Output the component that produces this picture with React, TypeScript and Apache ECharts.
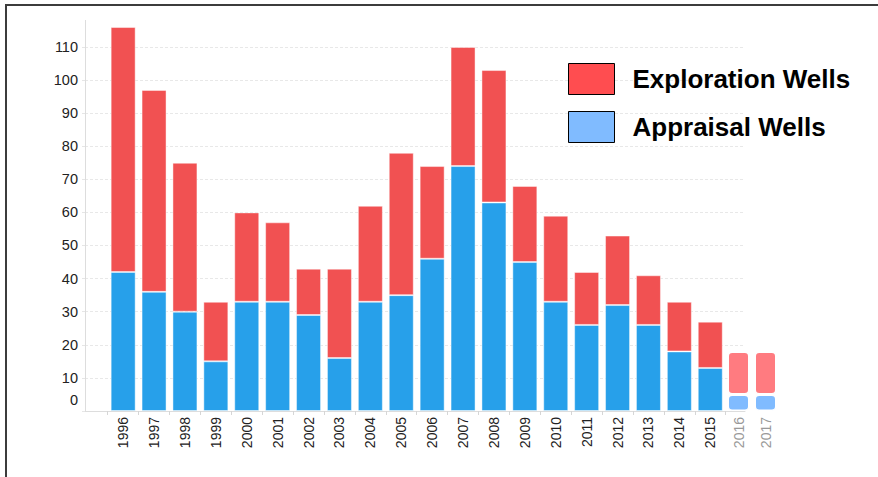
import React, { useEffect, useRef } from "react";
import * as echarts from "echarts";

const years = ["1996","1997","1998","1999","2000","2001","2002","2003","2004","2005","2006","2007","2008","2009","2010","2011","2012","2013","2014","2015"];
const appraisal = [42,36,30,15,33,33,29,16,33,35,46,74,63,45,33,26,32,26,18,13];
const exploration = [74,61,45,18,27,24,14,27,29,43,28,36,40,23,26,16,21,15,15,14];
const projYears = ["2016","2017"];
const projAppraisal = [5,5];
const projExploration = [13,13];

const FONT = "Arial, 'Liberation Sans', sans-serif";
const Y_MAX = 118;

export default function App() {
  const ref = useRef<HTMLDivElement>(null);
  useEffect(() => {
    if (!ref.current) return;
    const chart = echarts.init(ref.current, undefined, { renderer: "svg" });
    const gridTop = 20.4;
    const gridH = 390.6;
    const hiddenY = (i: number) => ({
      type: "value", gridIndex: i, min: 0, max: Y_MAX, show: false,
    });
    chart.setOption({
      animation: false,
      backgroundColor: "#fff",
      grid: [
        { left: 85, top: gridTop, width: 660, height: gridH },
        { left: 107.7, top: gridTop, width: 618, height: gridH },
        { left: 725, top: gridTop, width: 54, height: gridH },
      ],
      xAxis: [
        {
          type: "category", gridIndex: 0, data: [""],
          axisLine: { lineStyle: { color: "#dddddd", width: 1 } },
          axisTick: { show: false }, axisLabel: { show: false },
        },
        {
          type: "category", gridIndex: 1, data: years,
          axisLine: { show: false },
          axisTick: { show: true, length: 4, lineStyle: { color: "#d6d6d6" } },
          axisLabel: { rotate: 90, margin: 6, fontSize: 14, color: "#222", fontFamily: FONT },
        },
        {
          type: "category", gridIndex: 2, data: projYears,
          axisLine: { show: false }, axisTick: { show: false },
          axisLabel: { rotate: 90, margin: 6, fontSize: 14, color: "#999", fontFamily: FONT },
        },
      ],
      yAxis: [
        {
          type: "value", gridIndex: 0, min: 0, max: Y_MAX, interval: 10,
          axisLine: { show: true, lineStyle: { color: "#dddddd" } },
          axisTick: { show: true, length: 3, lineStyle: { color: "#e6e6e6" } },
          splitLine: { show: true, showMaxLine: false, lineStyle: { color: "#e8e8e8", type: [3, 2] } },
          axisLabel: {
            margin: 7, fontSize: 14.5, color: "#222", fontFamily: FONT, showMaxLabel: false,
            formatter: (v: number) => (v % 10 !== 0 ? "" : v === 0 ? "{z|0}" : String(v)),
            rich: { z: { fontSize: 14.5, color: "#222", fontFamily: FONT, padding: [0, 0, 22, 0] } },
          },
        },
        hiddenY(1),
        hiddenY(2),
      ],
      legend: {
        orient: "vertical", left: 563, top: 58, itemWidth: 46, itemHeight: 31, itemGap: 16,
        icon: "rect",
        textStyle: { fontSize: 26, fontWeight: "bold", color: "#000", fontFamily: FONT, padding: [0, 0, 0, 13] },
        data: [
          { name: "Exploration Wells", itemStyle: { color: "#FF4D50", borderColor: "#000", borderWidth: 1 } },
          { name: "Appraisal Wells", itemStyle: { color: "#80BBFF", borderColor: "#000", borderWidth: 1 } },
        ],
      },
      graphic: [
        { type: "rect", z: 0, shape: { x: 717, y: 35, width: 30, height: 90 }, style: { fill: "#fff" } },
        { type: "rect", z: 0, shape: { x: 614, y: 72, width: 133, height: 16 }, style: { fill: "#fff" } },
        {
          type: "polyline", z: 10,
          shape: { points: [[6, 477], [6, 5], [878, 5]] },
          style: { stroke: "#3c3c3c", lineWidth: 2, fill: "none" },
        },
      ],
      series: [
        {
          name: "Appraisal Wells", type: "bar", stack: "a", xAxisIndex: 1, yAxisIndex: 1,
          barWidth: 25, data: appraisal,
          itemStyle: { color: "#27A0EA", borderColor: "rgba(255,255,255,0.45)", borderWidth: 1 },
        },
        {
          name: "Exploration Wells", type: "bar", stack: "a", xAxisIndex: 1, yAxisIndex: 1,
          barWidth: 25, data: exploration,
          itemStyle: { color: "#F15152", borderColor: "rgba(255,255,255,0.45)", borderWidth: 1 },
        },
        {
          name: "Projected Appraisal", type: "bar", stack: "p", xAxisIndex: 2, yAxisIndex: 2,
          barWidth: 22, data: projAppraisal,
          itemStyle: { color: "#80BBFF", borderColor: "#fff", borderWidth: 1.5, borderRadius: 4 },
        },
        {
          name: "Projected Exploration", type: "bar", stack: "p", xAxisIndex: 2, yAxisIndex: 2,
          barWidth: 22, data: projExploration,
          itemStyle: { color: "#FF7B80", borderColor: "#fff", borderWidth: 1.5, borderRadius: 4 },
        },
      ],
    });
    return () => chart.dispose();
  }, []);
  return (
    <div
      ref={ref}
      style={{ position: "fixed", left: 0, top: 0, width: 878, height: 477, background: "#fff" }}
    />
  );
}
